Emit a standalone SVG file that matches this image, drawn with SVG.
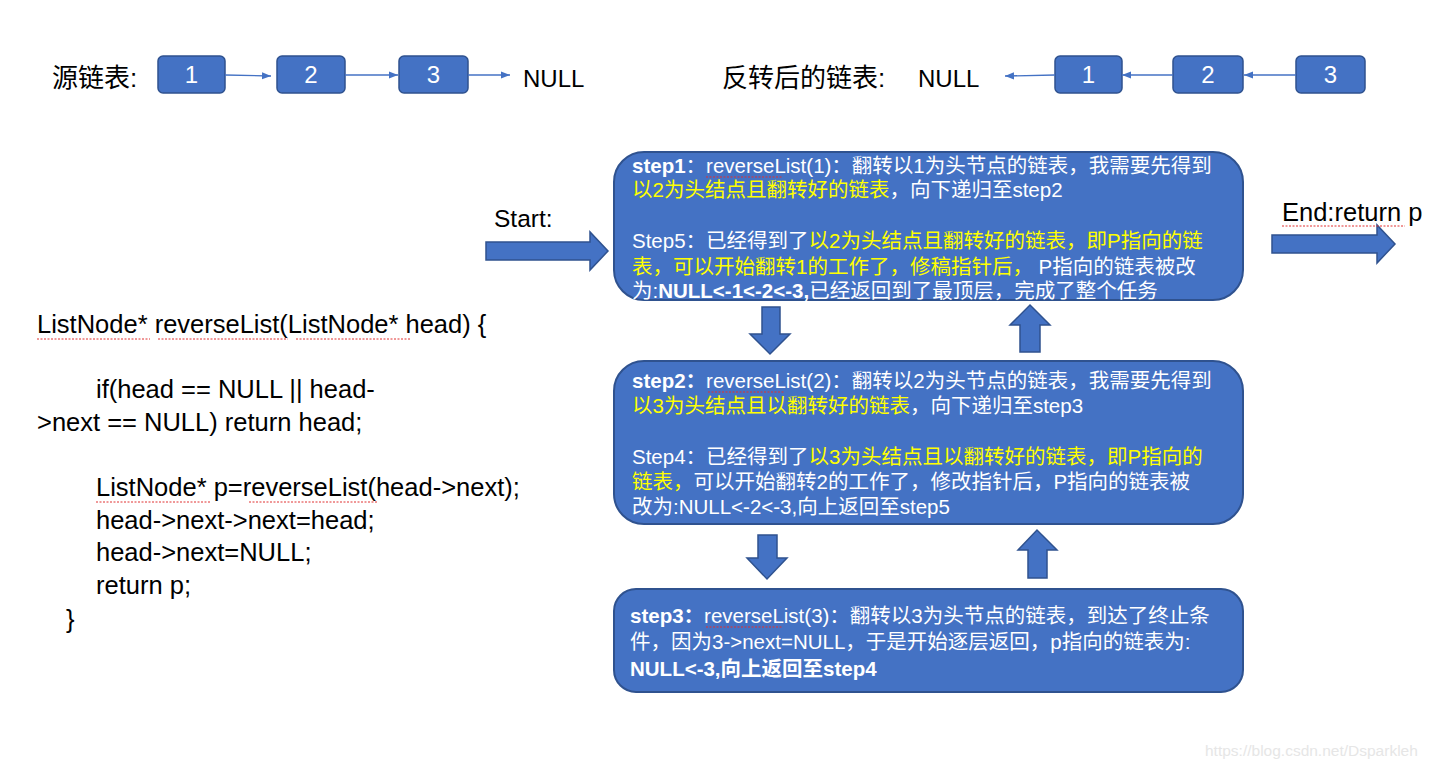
<svg xmlns="http://www.w3.org/2000/svg" width="1431" height="769" viewBox="0 0 1431 769">
<defs>
<marker id="ah" viewBox="0 0 10 10" refX="10" refY="5" markerWidth="9" markerHeight="9" markerUnits="userSpaceOnUse" orient="auto"><path d="M0,1 L10,5 L0,9 Z" fill="#4472C4"/></marker>
<style>
.lbl{font-family:"Liberation Sans","Noto Sans CJK SC",sans-serif;fill:#000;}
.n{fill:#4472C4;stroke:#2F528F;stroke-width:1.5;}
.nt{font-family:"Liberation Sans",sans-serif;font-size:24px;fill:#fff;text-anchor:middle;}
.big{fill:#4472C4;stroke:#2F528F;stroke-width:2;}
.bt{font-family:"Liberation Sans","Noto Sans CJK SC",sans-serif;font-size:20.5px;fill:#fff;}
.y{fill:#FFFF00;}
.b{font-weight:bold;}
.ln{stroke:#4472C4;stroke-width:1.3;fill:none;}
.blk{fill:#4472C4;stroke:#2F528F;stroke-width:1.5;}
.code{font-family:"Liberation Sans","Noto Sans CJK SC",sans-serif;font-size:25.5px;fill:#000;}
.sq{stroke:#E03030;stroke-width:1;fill:none;stroke-dasharray:2 1.5;}
</style>
</defs>
<rect width="1431" height="769" fill="#fff"/>

<g id="source-list">
<text class="lbl" x="52" y="87" font-size="26">源链表:</text>
<g id="s1"><rect class="n" x="158" y="56" width="67" height="37" rx="5"/><text class="nt" x="191.5" y="83">1</text></g>
<g id="s2"><rect class="n" x="277" y="56" width="68" height="37" rx="5"/><text class="nt" x="311" y="83">2</text></g>
<g id="s3"><rect class="n" x="399" y="56" width="69" height="37" rx="5"/><text class="nt" x="433.5" y="83">3</text></g>
<text class="lbl" x="523" y="87" font-size="24">NULL</text>
</g>

<g id="reversed-list">
<text class="lbl" x="722" y="87" font-size="26">反转后的链表:</text>
<text class="lbl" x="918" y="87" font-size="24">NULL</text>
<g id="r1"><rect class="n" x="1055" y="56" width="67" height="37" rx="5"/><text class="nt" x="1088.5" y="83">1</text></g>
<g id="r2"><rect class="n" x="1173" y="56" width="70" height="37" rx="5"/><text class="nt" x="1208" y="83">2</text></g>
<g id="r3"><rect class="n" x="1296" y="56" width="69" height="37" rx="5"/><text class="nt" x="1330.5" y="83">3</text></g>
</g>

<g id="connectors">
<line class="ln" x1="225" y1="75" x2="271" y2="76" marker-end="url(#ah)"/>
<line class="ln" x1="345" y1="75" x2="398" y2="75" marker-end="url(#ah)"/>
<line class="ln" x1="468" y1="75" x2="510" y2="75" marker-end="url(#ah)"/>
<line class="ln" x1="1055" y1="75" x2="1005" y2="76" marker-end="url(#ah)"/>
<line class="ln" x1="1173" y1="75" x2="1122" y2="75" marker-end="url(#ah)"/>
<line class="ln" x1="1296" y1="75" x2="1244" y2="75" marker-end="url(#ah)"/>
<path class="blk" d="M486,242 L590,242 L590,232 L608,251 L590,270 L590,260 L486,260 Z"/>
<path class="blk" d="M1272,235 L1377,235 L1377,225 L1395,244 L1377,263 L1377,253 L1272,253 Z"/>
<path class="blk" d="M762,307 L780,307 L780,334 L790,334 L770,354 L750,334 L762,334 Z"/>
<path class="blk" d="M1020,352 L1040,352 L1040,325 L1050,325 L1030,305 L1010,325 L1020,325 Z"/>
<path class="blk" d="M758,535 L777,535 L777,558 L787,558 L767,579 L747,558 L758,558 Z"/>
<path class="blk" d="M1028,578 L1047,578 L1047,550 L1057,550 L1037,530 L1018,550 L1028,550 Z"/>
</g>

<g id="start"><text class="lbl" x="494" y="227" font-size="24.5">Start:</text></g>
<g id="end"><text class="lbl" x="1282" y="221" font-size="25.5">End:return p</text>
<path class="sq" d="M1282,226 L1405,226"/></g>

<g id="step1">
<rect class="big" x="614" y="152" width="629" height="148" rx="30"/>
<text class="bt" x="632" y="173"><tspan class="b">step1</tspan>：reverseList(1)：翻转以1为头节点的链表，我需要先得到</text>
<path class="sq" d="M706,177 L782,177"/>
<text class="bt" x="632" y="197"><tspan class="y">以2为头结点且翻转好的链表</tspan>，向下递归至step2</text>
<text class="bt" x="632" y="248">Step5：已经得到了<tspan class="y">以2为头结点且翻转好的链表，即P指向的链</tspan></text>
<text class="bt" x="632" y="274"><tspan class="y">表，可以开始翻转1的工作了，修稿指针后，</tspan> P指向的链表被改</text>
<text class="bt" x="632" y="298">为:<tspan class="b">NULL&lt;-1&lt;-2&lt;-3,</tspan>已经返回到了最顶层，完成了整个任务</text>
</g>

<g id="step2">
<rect class="big" x="614" y="361" width="629" height="163" rx="30"/>
<text class="bt" x="632" y="388"><tspan class="b">step2：</tspan>reverseList(2)：翻转以2为头节点的链表，我需要先得到</text>
<path class="sq" d="M708,392 L784,392"/>
<text class="bt" x="632" y="413"><tspan class="y">以3为头结点且以翻转好的链表</tspan>，向下递归至step3</text>
<text class="bt" x="632" y="464">Step4：已经得到了<tspan class="y">以3为头结点且以翻转好的链表，即P指向的</tspan></text>
<text class="bt" x="632" y="489"><tspan class="y">链表，</tspan>可以开始翻转2的工作了，修改指针后，P指向的链表被</text>
<text class="bt" x="632" y="514">改为:NULL&lt;-2&lt;-3,向上返回至step5</text>
</g>

<g id="step3">
<rect class="big" x="614" y="589" width="629" height="103" rx="22"/>
<text class="bt" x="630" y="623"><tspan class="b">step3：</tspan>reverseList(3)：翻转以3为头节点的链表，到达了终止条</text>
<path class="sq" d="M706,627 L782,627"/>
<text class="bt" x="630" y="649">件，因为3-&gt;next=NULL，于是开始逐层返回，p指向的链表为:</text>
<text class="bt b" x="630" y="676">NULL&lt;-3,向上返回至step4</text>
</g>

<g id="code">
<text class="code" x="37" y="333">ListNode* reverseList(ListNode* head) {</text>
<path class="sq" d="M37,339 L150,339 M158,339 L288,339 M296,339 L410,339"/>
<text class="code" x="96" y="398">if(head == NULL || head-</text>
<text class="code" x="37" y="431">&gt;next == NULL) return head;</text>
<text class="code" x="96" y="496">ListNode* p=reverseList(head-&gt;next);</text>
<path class="sq" d="M96,502 L210,502 M249,502 L378,502"/>
<text class="code" x="96" y="529">head-&gt;next-&gt;next=head;</text>
<text class="code" x="96" y="561">head-&gt;next=NULL;</text>
<text class="code" x="96" y="594">return p;</text>
<text class="code" x="66" y="628">}</text>
</g>

<text x="1205" y="756" font-family="Liberation Sans,sans-serif" font-size="15.5" fill="#e6e6e6">https://blog.csdn.net/Dsparkleh</text>
</svg>
